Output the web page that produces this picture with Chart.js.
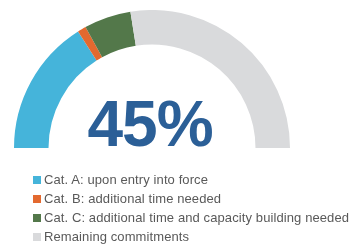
<!DOCTYPE html>
<html>
<head>
<meta charset="utf-8">
<script src="https://cdn.jsdelivr.net/npm/chart.js@4"></script>
<style>
  body { margin: 0; background: #fff; width: 355px; height: 247px; position: relative; overflow: hidden; font-family: "Liberation Sans", Arial, sans-serif; }
  #wrap { position: absolute; left: 14px; top: 10px; width: 276px; height: 138px; }
  #pct { position: absolute; left: 12px; width: 276px; top: 92px; text-align: center; font-weight: bold; font-size: 64px; line-height: 64px; color: #2B5F97; letter-spacing: -1px; }
  #legend { position: absolute; left: 33px; top: 171px; font-size: 13px; letter-spacing: 0.1px; color: #595959; }
  #legend div { height: 19px; line-height: 17px; white-space: nowrap; }
  #legend span { display: inline-block; width: 8px; height: 8px; margin-right: 3px; vertical-align: 0px; }
</style>
</head>
<body>
<div id="wrap"><canvas id="cv"></canvas></div>
<div id="pct"></div>
<div id="legend"></div>
<script>
// kategorien und werte (prozent der verpflichtungen)
const labels = ["Cat. A: upon entry into force", "Cat. B: additional time needed", "Cat. C: additional time and capacity building needed", "Remaining commitments"];
const values = [32, 2, 11, 55];
const colors = ["#45B4DA", "#E3692F", "#53784A", "#D9DADC"];
const total = "45%";

document.getElementById("pct").textContent = total;

// legende als html
let legend = document.getElementById("legend");
labels.forEach((l, i) => {
    let row = document.createElement("div");
    let sq = document.createElement("span");
    sq.style.background = colors[i];
    row.appendChild(sq);
    row.appendChild(document.createTextNode(l));
    legend.appendChild(row);
});

new Chart(document.getElementById("cv").getContext("2d"), {
    type: "doughnut",
    data: {
        labels: labels,
        datasets: [{
            data: values,
            backgroundColor: colors,
            borderWidth: 0
        }]
    },
    options: {
        responsive: true,
        maintainAspectRatio: false,
        animation: false,
        rotation: -90,
        circumference: 180,
        cutout: "75%",
        layout: { padding: 0 },
        plugins: { legend: { display: false }, tooltip: { enabled: false } }
    }
});
</script>
</body>
</html>
